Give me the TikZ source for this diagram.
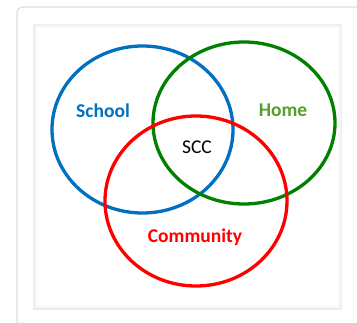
\documentclass[tikz,border=0pt]{standalone}
\usepackage{fontspec}
\setmainfont{Carlito}
\definecolor{schoolblue}{RGB}{0,112,192}
\definecolor{homegreen}{RGB}{0,128,0}
\definecolor{hometext}{RGB}{84,160,40}
\definecolor{commred}{RGB}{255,0,0}
\definecolor{framegray}{RGB}{221,221,221}
\begin{document}
\begin{tikzpicture}[x=1pt, y=-1pt, line join=round, line cap=round, line width=3.3pt]
            \tikzset{label style/.style={font=\fontsize{19.5}{22}\selectfont\bfseries}}
            \useasboundingbox (0,0) rectangle (357,323);
            \begin{scope}
                \clip (0,0) rectangle (357,323);
                \draw[framegray, line width=1.2pt, rounded corners=6pt, fill=white] (17,7) rectangle (380,345);
            \end{scope}
            % panel with soft edge
            \fill[black!7] (33,24) rectangle (342,310);
            \fill[black!4] (34.5,25.5) rectangle (340.5,308.5);
            \fill[black!2] (36,27) rectangle (339,307);
            \fill[white] (37.5,28.5) rectangle (337.5,305.5);
            % circles
            \draw[schoolblue] (142.5,129.5) ellipse (90.5 and 83.5);
            \draw[homegreen] (244,123) ellipse (91 and 81);
            \draw[commred] (196,201) ellipse (91 and 85);
            \node[label style, text=schoolblue] (school) at (103,111) {School};
            \node[label style, text=hometext] (home) at (283,110) {Home};
            \node[label style, text=commred] (community) at (195,237) {Community};
            \node[font=\fontsize{19.5}{22}\selectfont, text=black] (scc) at (197,147) {SCC};
        \end{tikzpicture}
\end{document}
